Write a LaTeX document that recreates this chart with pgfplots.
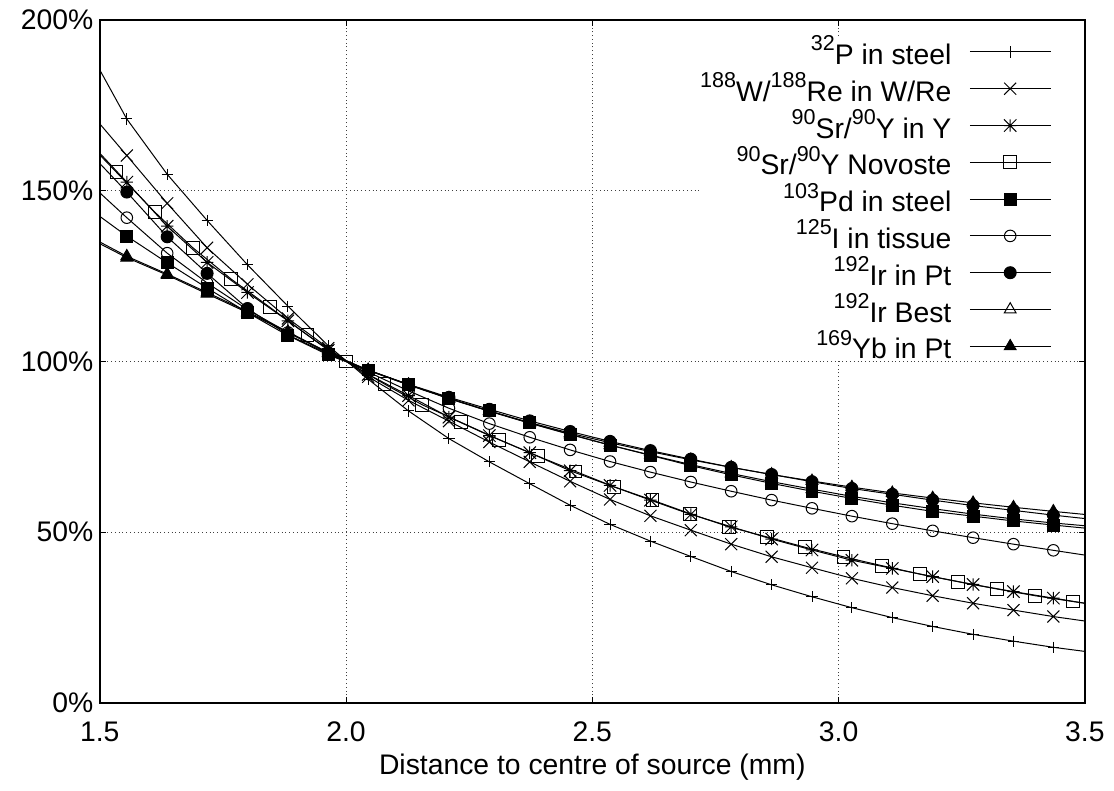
\documentclass[border=0pt]{standalone}
\usepackage{fontspec}
\setmainfont{Liberation Sans}
\usepackage{pgfplots}
\usepackage{pgfplotstable}
\pgfplotsset{compat=1.18}
\usetikzlibrary{calc}

% gnuplot style marks
\pgfdeclareplotmark{gpx}{%
  \pgfpathmoveto{\pgfqpoint{-\pgfplotmarksize}{-\pgfplotmarksize}}%
  \pgfpathlineto{\pgfqpoint{\pgfplotmarksize}{\pgfplotmarksize}}%
  \pgfpathmoveto{\pgfqpoint{-\pgfplotmarksize}{\pgfplotmarksize}}%
  \pgfpathlineto{\pgfqpoint{\pgfplotmarksize}{-\pgfplotmarksize}}%
  \pgfusepathqstroke}
\pgfdeclareplotmark{gpstar}{%
  \pgfpathmoveto{\pgfqpoint{-\pgfplotmarksize}{0pt}}%
  \pgfpathlineto{\pgfqpoint{\pgfplotmarksize}{0pt}}%
  \pgfpathmoveto{\pgfqpoint{0pt}{-\pgfplotmarksize}}%
  \pgfpathlineto{\pgfqpoint{0pt}{\pgfplotmarksize}}%
  \pgfpathmoveto{\pgfqpoint{-\pgfplotmarksize}{-\pgfplotmarksize}}%
  \pgfpathlineto{\pgfqpoint{\pgfplotmarksize}{\pgfplotmarksize}}%
  \pgfpathmoveto{\pgfqpoint{-\pgfplotmarksize}{\pgfplotmarksize}}%
  \pgfpathlineto{\pgfqpoint{\pgfplotmarksize}{-\pgfplotmarksize}}%
  \pgfusepathqstroke}

% isotope mass number, gnuplot-like superscript
\newcommand{\iso}[1]{\raisebox{6.8pt}{\fontsize{10.8}{12}\selectfont #1}}

% relative dose (%) vs distance (mm); marker points plus the two edge points
\pgfplotstableread{
x      p32   w188  sry   pd    i125  irpt  irbest yb
1.500  185.4 169.6 161.0 142.5 149.4 158.0 135.0 134.5
1.555  171.0 160.3 152.5 136.7 142.1 149.6 130.8 130.4
1.637  154.8 146.3 139.6 128.9 131.7 136.5 125.6 125.3
1.718  141.3 133.3 129.0 121.5 123.0 125.8 120.2 119.8
1.800  128.3 122.6 120.2 114.3 115.2 115.5 114.6 114.3
1.882  116.2 112.6 111.9 107.6 108.5 107.8 108.7 108.5
1.964  104.6 103.9 103.3 101.9 102.6 102.2 102.6 102.4
2.045   94.8  95.5  96.2  97.5  96.9  97.4  97.4  97.5
2.127   85.5  88.6  90.0  93.2  91.4  93.3  93.1  93.2
2.209   77.4  82.5  83.7  89.2  86.3  89.5  89.1  89.2
2.291   70.6  76.4  78.3  85.5  81.8  86.0  85.4  85.5
2.373   64.2  70.6  73.3  82.0  77.8  82.6  81.9  82.1
2.455   57.9  64.9  68.0  78.7  74.1  79.5  78.6  79.0
2.536   52.3  59.6  63.7  75.5  70.7  76.6  75.5  76.2
2.618   47.4  54.8  59.4  72.5  67.6  73.9  72.6  73.6
2.700   42.9  50.6  55.2  69.5  64.7  71.4  69.8  71.2
2.782   38.5  46.5  51.6  66.8  62.0  69.0  67.2  69.0
2.864   34.6  42.8  48.0  64.3  59.4  66.9  64.8  66.9
2.946   31.1  39.6  44.8  62.0  57.0  64.8  62.6  65.0
3.027   27.9  36.5  41.8  59.9  54.7  62.8  60.5  63.2
3.109   25.0  33.8  39.4  57.9  52.5  61.1  58.6  61.5
3.191   22.4  31.4  37.0  56.1  50.4  59.4  56.9  60.0
3.273   20.1  29.2  34.7  54.7  48.4  57.8  55.3  58.6
3.355   18.1  27.2  32.6  53.3  46.5  56.4  53.9  57.3
3.436   16.3  25.3  30.7  52.1  44.7  55.0  52.7  56.1
3.500   15.1  24.0  29.2  51.2  43.3  54.0  51.9  55.2
}\dosetab

\pgfplotstableread{
x      nov
1.500  160.5
1.534  155.4
1.612  143.7
1.689  133.3
1.767  124.1
1.845  115.9
1.922  107.7
2.000  100.0
2.078   93.4
2.155   87.3
2.233   82.2
2.311   77.1
2.389   72.3
2.466   67.8
2.544   63.3
2.622   59.4
2.699   55.4
2.777   51.6
2.855   48.6
2.932   45.6
3.010   42.8
3.088   40.2
3.166   37.7
3.243   35.5
3.321   33.4
3.399   31.4
3.476   29.7
3.500   29.2
}\novtab

\begin{document}
\fontsize{14.2}{17}\selectfont
\begin{tikzpicture}
\begin{axis}[
    scale only axis,
    width=494pt, height=342.5pt,
    xmin=1.5, xmax=3.5, ymin=0, ymax=200,
    xtick={1.5,2.0,2.5,3.0,3.5},
    ytick={0,50,100,150,200},
    /pgf/number format/assume math mode=true,
    x tick label style={/pgf/number format/fixed, /pgf/number format/fixed zerofill,
        /pgf/number format/precision=1, anchor=base, yshift=-19.5pt},
    yticklabel={\pgfmathprintnumber{\tick}\%},
    y tick label style={anchor=east, inner sep=0pt, xshift=-3pt},
    tick align=inside,
    major tick length=3pt,
    tick style={black, line width=0.5pt},
    axis line style={line width=1pt},
    grid=major,
    grid style={black!75, line width=0.5pt, dash pattern=on 0.5pt off 1.4pt},
    xlabel={Distance to centre of source (mm)},
    xlabel style={at={(axis description cs:0.5,0)}, anchor=base, yshift=-36pt},
    every axis plot/.append style={black, line width=0.5pt},
    legend plot pos=right,
    legend cell align=right,
    legend image code/.code={%
        \draw[#1, mark indices={2}] plot coordinates {(0pt,0pt) (20.25pt,0pt) (40.5pt,0pt)};
        \path[draw=none] (0pt,0pt) -- (57.5pt,0pt);},
    legend style={at={(1,1)}, anchor=north east, yshift=-8.55pt,
        draw=none, fill=white, inner xsep=0pt, inner ysep=1pt,
        row sep=5.85pt, column sep=9pt,
        nodes={text height=12.6pt, text depth=0pt, inner sep=0pt}},
]
\addplot[mark=+, mark size=2.8pt, mark indices={2,...,25}] table[x=x, y=p32] {\dosetab};
\addlegendentry{\iso{32}P in steel}
\addplot[mark=gpx, mark size=3pt, mark indices={2,...,25}] table[x=x, y=w188] {\dosetab};
\addlegendentry{\iso{188}W/\iso{188}Re in W/Re}
\addplot[mark=gpstar, mark size=3.1pt, mark indices={2,...,25}] table[x=x, y=sry] {\dosetab};
\addlegendentry{\iso{90}Sr/\iso{90}Y in Y}
\addplot[mark=square, mark size=3.2pt, mark indices={2,...,27}] table[x=x, y=nov] {\novtab};
\addlegendentry{\iso{90}Sr/\iso{90}Y Novoste}
\addplot[mark=square*, mark size=3pt, mark indices={2,...,25}] table[x=x, y=pd] {\dosetab};
\addlegendentry{\iso{103}Pd in steel}
\addplot[mark=o, mark size=2.9pt, mark indices={2,...,25}] table[x=x, y=i125] {\dosetab};
\addlegendentry{\iso{125}I in tissue}
\addplot[mark=*, mark size=3pt, mark indices={2,...,25}] table[x=x, y=irpt] {\dosetab};
\addlegendentry{\iso{192}Ir in Pt}
\addplot[mark=triangle, mark size=3.4pt, mark indices={2,...,25}] table[x=x, y=irbest] {\dosetab};
\addlegendentry{\iso{192}Ir Best}
\addplot[mark=triangle*, mark size=3.4pt, mark indices={2,...,25}] table[x=x, y=yb] {\dosetab};
\addlegendentry{\iso{169}Yb in Pt}
\end{axis}
\path ($(current axis.south west)+(-50pt,-43.5pt)$) rectangle ($(current axis.north east)+(13pt,10pt)$);
\end{tikzpicture}
\end{document}
